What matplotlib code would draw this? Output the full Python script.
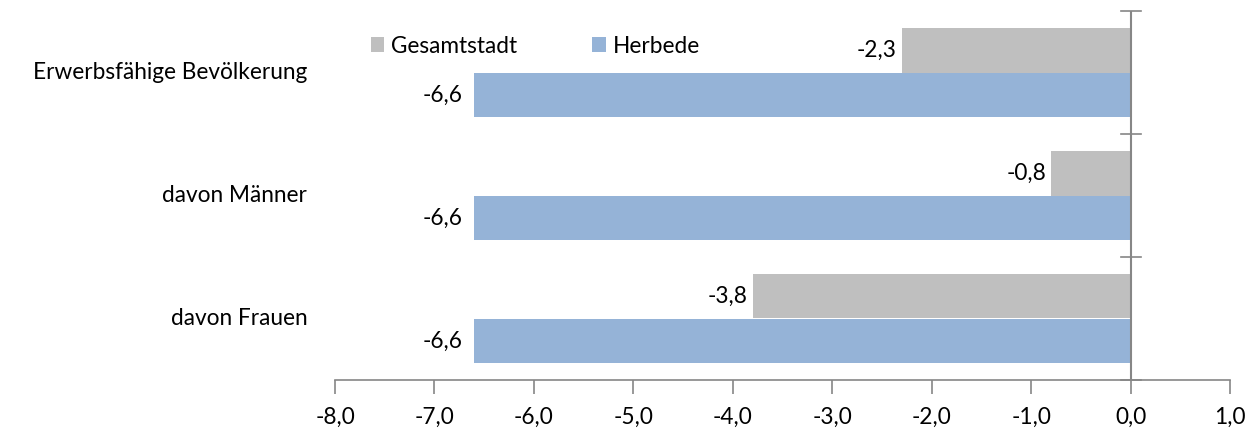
import matplotlib
matplotlib.use("Agg")
from matplotlib import pyplot as plt
import numpy as np

plt.rcParams['font.family'] = ['Lato', 'DejaVu Sans']

categories = ['Erwerbsfähige Bevölkerung', 'davon Männer', 'davon Frauen']
gesamtstadt = [-2.3, -0.8, -3.8]
herbede = [-6.6, -6.6, -6.6]
xticks = [-8, -7, -6, -5, -4, -3, -2, -1, 0, 1]

grey = '#BFBFBF'
blue = '#95B3D7'
axcol = '#868686'
fs = 16.3

fig = plt.figure(figsize=(12.57, 4.28), dpi=100)
ax = fig.add_axes([335/1257, 48/428, 895/1257, 369/428])

y = np.arange(len(categories))
h = 0.365
ax.barh(y - h/2, gesamtstadt, height=h, color=grey, label='Gesamtstadt')
ax.barh(y + h/2, herbede, height=h, color=blue, label='Herbede')

def fmt(v):
    return ('%.1f' % v).replace('.', ',')

for i in range(len(categories)):
    ax.text(gesamtstadt[i] - 0.05, y[i] - h/2, fmt(gesamtstadt[i]), ha='right', va='center', fontsize=fs)
    ax.text(herbede[i] - 0.12, y[i] + h/2, fmt(herbede[i]), ha='right', va='center', fontsize=fs)
    ax.text(-8.28, y[i], categories[i], ha='right', va='center', fontsize=fs)

ax.set_xlim(-8, 1)
ax.set_ylim(2.5, -0.5)
ax.set_xticks(xticks)
ax.set_xticklabels([fmt(v) for v in xticks], fontsize=fs)
ax.set_yticks([])

for s in ['top', 'right', 'left']:
    ax.spines[s].set_visible(False)
ax.spines['bottom'].set_color(axcol)
ax.spines['bottom'].set_linewidth(1.2)
ax.tick_params(axis='x', direction='out', length=10, width=1.2, color=axcol, pad=9)

# vertical axis at zero with crossing ticks
ax.axvline(0, color=axcol, linewidth=1.5)
for b in [-0.5, 0.5, 1.5, 2.5]:
    ax.plot([-0.1, 0.1], [b, b], color=axcol, linewidth=1.2, clip_on=False)

ax.legend(loc='center left', bbox_to_anchor=(0.04, 0.905), ncol=2, frameon=False,
          fontsize=fs, handlelength=0.6, handleheight=0.6, handletextpad=0.3,
          columnspacing=3.3, borderpad=0, borderaxespad=0)

fig.savefig('out.png', dpi=100)
